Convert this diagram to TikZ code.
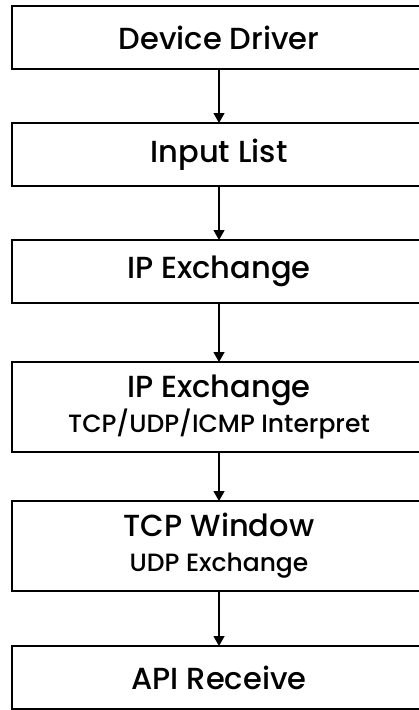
\documentclass[tikz,border=0pt]{standalone}
\usepackage{fontspec}
\setmainfont{Poppins}[UprightFont=* Medium]
\usetikzlibrary{arrows.meta,positioning}

\newcommand{\subline}[1]{{\fontsize{25}{29}\selectfont #1}}

\begin{document}
\begin{tikzpicture}[
    node distance = 54pt,
    every node/.style = {align=center},
    layer/.style  = {draw, rectangle, line width=1.6pt, outer sep=0pt,
                     minimum width=414pt, minimum height=63pt, inner sep=0pt,
                     font=\fontsize{30.5}{35}\selectfont},
    layer2/.style = {layer, minimum height=90pt},
    arr/.style    = {-{Triangle[width=11pt,length=10pt]}, line width=1.3pt},
]
\clip (0,0) rectangle (419pt,-710pt);

% ---------------- receive path ----------------
\node[layer] (dev) at (219pt,-37.5pt) {Device Driver};
\node[layer, below=of dev]         (inlist) {Input List};
\node[layer, below=of inlist]      (ipx)    {IP Exchange};
\node[layer2, below=59pt of ipx]   (ipint)  {IP Exchange\\\subline{TCP/UDP/ICMP Interpret}};
\node[layer2, below=49pt of ipint] (tcpwin) {TCP Window\\\subline{UDP Exchange}};
\node[layer, below=55pt of tcpwin] (apirx)  {API Receive};

% ---------------- arrows ----------------
\draw[arr] (dev) -- (inlist);
\draw[arr] (inlist) -- (ipx);
\draw[arr] (ipx) -- (ipint);
\draw[arr] (ipint) -- (tcpwin);
\draw[arr] (tcpwin) -- (apirx);

\end{tikzpicture}
\end{document}
